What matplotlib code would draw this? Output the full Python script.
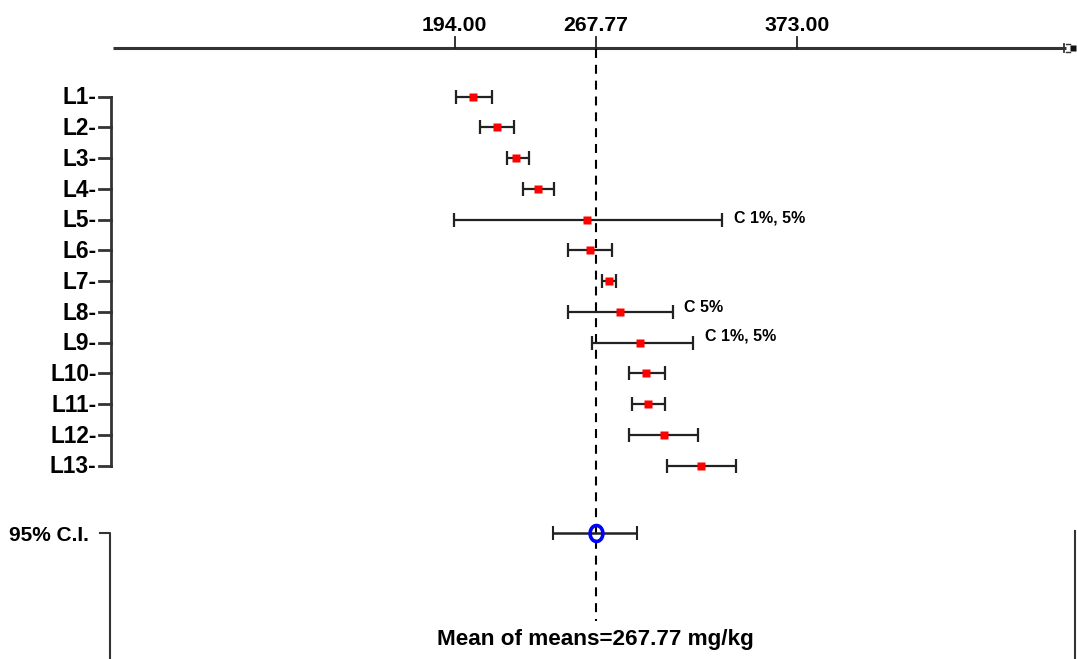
import numpy as np
import matplotlib
matplotlib.use("Agg")
import matplotlib.pyplot as plt
from matplotlib import transforms
from matplotlib.path import Path

plt.rcParams['font.family'] = ['Liberation Sans', 'DejaVu Sans']
plt.rcParams['font.weight'] = 'bold'

# ---- data -------------------------------------------------------------
labs = ["L1", "L2", "L3", "L4", "L5", "L6", "L7", "L8", "L9", "L10", "L11", "L12", "L13"]
means = [203.9, 216.0, 226.4, 237.6, 263.3, 264.6, 274.8, 280.8, 291.0, 294.3, 295.1, 303.4, 322.9]
lower = [194.9, 207.1, 221.5, 229.8, 193.7, 253.5, 271.0, 253.5, 266.0, 285.5, 286.6, 285.5, 305.2]
upper = [213.8, 225.0, 233.0, 245.9, 333.8, 276.4, 278.5, 308.0, 318.6, 304.3, 304.3, 321.5, 341.1]
flags = ["", "", "", "", "C 1%, 5%", "", "", "C 5%", "C 1%, 5%", "", "", "", ""]
grand_mean = 267.77
ci_low, ci_high = 245.4, 289.5
tick_values = [194.00, 267.77, 373.00]
units = "mg/kg"

# ---- figure -----------------------------------------------------------
W, H = 1077, 659
fig = plt.figure(figsize=(W / 100, H / 100), dpi=100)
ax = fig.add_axes([0, 0, 1, 1])
ax.set_xlim(-43.67, 519.52)
ax.set_ylim(18.286, -3.145)
ax.axis('off')

# pixel-space overlay for frame decorations
deco = fig.add_axes([0, 0, 1, 1], zorder=-1)
deco.set_xlim(0, W)
deco.set_ylim(H, 0)
deco.axis('off')

x_data_y_px = transforms.blended_transform_factory(ax.transData, deco.transData)
x_px_y_data = transforms.blended_transform_factory(deco.transData, ax.transData)

rows = np.arange(len(labs))
ci_row = 14.18
m = np.array(means)
lo = np.array(lower)
hi = np.array(upper)

ink = '#222222'
frame = '#333333'

# top value axis with arrow-like end cap
axis_y = 47.7
deco.plot([113, 1066], [axis_y, axis_y], color=frame, lw=2.2, solid_capstyle='butt')
deco.plot([1064, 1064], [axis_y - 4, axis_y + 4], color=frame, lw=1.3)
deco.plot([1066, 1070], [axis_y - 4, axis_y - 4], color=frame, lw=1.0)
deco.plot([1066, 1070], [axis_y + 4, axis_y + 4], color=frame, lw=1.0)
deco.plot([1072.5], [axis_y], marker='s', ms=5, color='#111111', mec='none')
for v in tick_values:
    ax.plot([v, v], [36.7, axis_y], transform=x_data_y_px, color=ink, lw=1.3)
    ax.text(v, 31, f"{v:.2f}", transform=x_data_y_px, ha='center', va='baseline',
            fontsize=15.3, fontweight='bold', color='black')

# mean-of-means reference line
ax.plot([grand_mean, grand_mean], [49, 621], transform=x_data_y_px, color='black',
        lw=1.5, linestyle=(0, (4.3, 3.3)))

# left category axis
label_tr = transforms.offset_copy(x_px_y_data, fig=fig, y=-5.6, units='points')
ax.plot([111, 111], [rows[0], rows[-1]], transform=x_px_y_data, color=frame, lw=2.0,
        solid_capstyle='projecting')
for r, name in zip(rows, labs):
    ax.plot([99, 111], [r, r], transform=x_px_y_data, color=frame, lw=2.0)
    ax.text(96.5, r, name + "-", transform=label_tr, ha='right', va='baseline',
            fontsize=16.3, fontweight='bold', color='black')

# confidence-interval bracket and right frame edge
ax.plot([100, 110, 110], [ci_row, ci_row, 40], transform=x_px_y_data, color=frame, lw=1.5)
ax.plot([1075, 1075], [ci_row - 0.05, 40], transform=x_px_y_data, color=frame, lw=1.5)
ax.text(89, ci_row, "95% C.I.", transform=label_tr, ha='right', va='baseline',
        fontsize=15, fontweight='bold', color='black')

# laboratory intervals and means
ax.errorbar(m, rows, xerr=[m - lo, hi - m], fmt='none', ecolor=ink, elinewidth=1.6,
            capsize=5, capthick=1.6, zorder=3)
ax.plot(m, rows, linestyle='none', marker='s', ms=6.4, color='#ff0000', mec='none', zorder=4)

# outlier flags (vertical offsets in points)
flag_lift = {4: 1.5, 7: 3.4, 8: 4.8}
for r, txt, h in zip(rows, flags, hi):
    if txt:
        ax.annotate(txt, xy=(h, r), xytext=(8.5, flag_lift.get(r, 0)),
                    textcoords='offset points', ha='left', va='center',
                    fontsize=11.5, fontweight='bold', color='black')

# grand mean with its 95% interval (slightly tall ring marker)
t = np.linspace(0, 2 * np.pi, 41)
ring = Path(np.column_stack([0.8 * np.cos(t), np.sin(t)]))
ax.errorbar([grand_mean], [ci_row], xerr=[[grand_mean - ci_low], [ci_high - grand_mean]],
            fmt='none', ecolor=ink, elinewidth=1.8, capsize=5, capthick=1.5, zorder=3)
ax.plot([grand_mean], [ci_row], linestyle='none', marker=ring, ms=11.5, mfc='none',
        mec='#0000ff', mew=2.6, zorder=4)

ax.text(grand_mean, 645, f"Mean of means={grand_mean:.2f} {units}", transform=x_data_y_px,
        ha='center', va='baseline', fontsize=16.2, fontweight='bold', color='black')

fig.savefig("out.png", dpi=100, facecolor='white')
